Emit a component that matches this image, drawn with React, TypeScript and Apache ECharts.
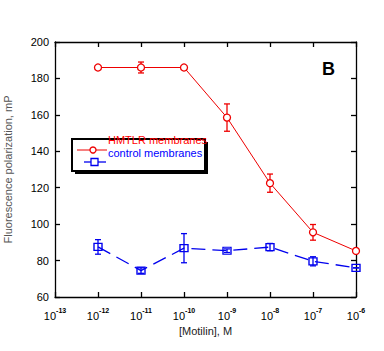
import React, { useEffect, useRef } from "react";
import * as echarts from "echarts";

// log10 of motilin concentration (M)
const exponents = [-12, -11, -10, -9, -8, -7, -6];
const hmtlrValues = [186, 186, 186, 158.5, 122.5, 95.5, 85.3];
const hmtlrErrors = [1, 3, 0.6, 7.5, 5, 4.3, 0];
const controlValues = [87.5, 74.5, 86.8, 85.4, 87.4, 79.6, 76];
const controlErrors = [4, 1.5, 8, 1, 2, 2.5, 0];
const yTicks = [60, 80, 100, 120, 140, 160, 180, 200];

const RED = "#ee0000";
const BLUE = "#0000ee";
const FONT = "Liberation Sans, Arial, sans-serif";

function errorBarSeries(values: number[], errors: number[], color: string) {
  const data = exponents.map((x, i) => [x, values[i] - errors[i], values[i] + errors[i]]);
  return {
    type: "custom",
    xAxisIndex: 0,
    yAxisIndex: 0,
    silent: true,
    z: 3,
    data,
    renderItem: (_params: any, api: any) => {
      const x = api.value(0);
      const lo = api.coord([x, api.value(1)]);
      const hi = api.coord([x, api.value(2)]);
      const cap = 3;
      const style = { stroke: color, lineWidth: 1.3 };
      return {
        type: "group",
        children: [
          { type: "line", shape: { x1: lo[0], y1: lo[1], x2: hi[0], y2: hi[1] }, style },
          { type: "line", shape: { x1: lo[0] - cap, y1: lo[1], x2: lo[0] + cap, y2: lo[1] }, style },
          { type: "line", shape: { x1: hi[0] - cap, y1: hi[1], x2: hi[0] + cap, y2: hi[1] }, style },
        ],
      };
    },
  };
}

export default function App() {
  const ref = useRef<HTMLDivElement>(null);
  useEffect(() => {
    if (!ref.current) return;
    const chart = echarts.init(ref.current, undefined, { renderer: "svg" });
    const axisLine = { show: true, lineStyle: { color: "#000", width: 1.3 } };
    const axisTick = { show: true, inside: true, length: 5, lineStyle: { color: "#000", width: 1.3 } };
    chart.setOption({
      animation: false,
      backgroundColor: "#fff",
      grid: { left: 55, right: 28, top: 42, bottom: 54, containLabel: false, outerBoundsMode: "none" },
      xAxis: [
        {
          type: "value",
          min: -13,
          max: -6,
          interval: 1,
          position: "bottom",
          axisLine,
          axisTick,
          splitLine: { show: false },
          axisLabel: {
            margin: 10,
            formatter: (v: number) => "{b|10}{s|" + Math.round(v) + "}",
            rich: {
              b: { fontSize: 11, fontFamily: FONT, color: "#000", verticalAlign: "bottom", lineHeight: 14 },
              s: { fontSize: 7, fontWeight: "bold", fontFamily: FONT, color: "#000", verticalAlign: "top", lineHeight: 14, padding: [0, 0, 6, 0] },
            },
          },
          name: "[Motilin], M",
          nameLocation: "middle",
          nameGap: 28,
          nameTextStyle: { fontSize: 11, fontFamily: FONT, color: "#222" },
        },
        {
          type: "value",
          min: -13,
          max: -6,
          interval: 1,
          position: "top",
          axisLine,
          axisTick,
          axisLabel: { show: false },
          splitLine: { show: false },
        },
      ],
      yAxis: [
        {
          type: "value",
          min: yTicks[0],
          max: yTicks[yTicks.length - 1],
          interval: 20,
          position: "left",
          axisLine,
          axisTick,
          splitLine: { show: false },
          axisLabel: { fontSize: 11, fontFamily: FONT, color: "#000", margin: 6 },
          name: "Fluorescence polarization, mP",
          nameLocation: "middle",
          nameGap: 42,
          nameTextStyle: { fontSize: 11, fontFamily: FONT, color: "#555" },
        },
        {
          type: "value",
          min: yTicks[0],
          max: yTicks[yTicks.length - 1],
          interval: 20,
          position: "right",
          axisLine,
          axisTick,
          axisLabel: { show: false },
          splitLine: { show: false },
        },
      ],
      series: [
        errorBarSeries(hmtlrValues, hmtlrErrors, RED),
        errorBarSeries(controlValues, controlErrors, BLUE),
        {
          name: "HMTLR membranes",
          type: "line",
          data: exponents.map((x, i) => [x, hmtlrValues[i]]),
          symbol: "circle",
          symbolSize: 7,
          showSymbol: true,
          lineStyle: { color: RED, width: 1 },
          itemStyle: { color: "#fff", borderColor: RED, borderWidth: 1.3 },
          z: 4,
        },
        {
          name: "control membranes",
          type: "line",
          data: exponents.map((x, i) => [x, controlValues[i]]),
          symbol: "rect",
          symbolSize: [8, 7],
          showSymbol: true,
          lineStyle: { color: BLUE, width: 1.3, type: [14, 7] },
          itemStyle: { color: "transparent", borderColor: BLUE, borderWidth: 1.3 },
          z: 4,
        },
      ],
      graphic: [
        // legend box with shadow
        { type: "rect", shape: { x: 75, y: 142, width: 133, height: 32 }, style: { fill: "#000" }, z: 10 },
        { type: "rect", shape: { x: 72, y: 139, width: 133, height: 32 }, style: { fill: "#fff", stroke: "#000", lineWidth: 2 }, z: 11 },
        { type: "line", shape: { x1: 77, y1: 150, x2: 107, y2: 150 }, style: { stroke: RED, lineWidth: 1 }, z: 12 },
        { type: "circle", shape: { cx: 93, cy: 150, r: 3 }, style: { fill: "#fff", stroke: RED, lineWidth: 1.3 }, z: 12 },
        { type: "line", shape: { x1: 84, y1: 162, x2: 106, y2: 162 }, style: { stroke: BLUE, lineWidth: 1.3 }, z: 12 },
        { type: "rect", shape: { x: 91, y: 158.5, width: 7, height: 7 }, style: { fill: "#fff", stroke: BLUE, lineWidth: 1.3 }, z: 12 },
        { type: "text", x: 108, y: 140, style: { text: "HMTLR membranes", fill: "#ff0000", font: "11px " + FONT, textVerticalAlign: "middle" }, z: 13 },
        { type: "text", x: 108, y: 153, style: { text: "control membranes", fill: "#0000ff", font: "11px " + FONT, textVerticalAlign: "middle" }, z: 13 },
        { type: "text", x: 322, y: 69, style: { text: "B", fill: "#000", font: "bold 18px " + FONT, textVerticalAlign: "middle" }, z: 13 },
      ],
    });
    return () => chart.dispose();
  }, []);
  return <div ref={ref} style={{ position: "fixed", left: 0, top: 0, width: 384, height: 351 }} />;
}
